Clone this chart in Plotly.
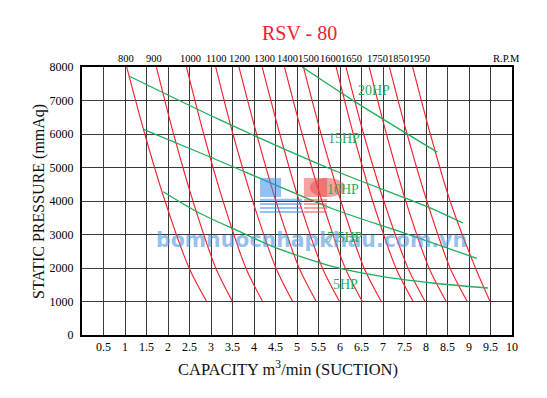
import plotly.graph_objects as go

# ---------------- data ----------------
pressure_levels = [8000, 6000, 4000, 2000, 1000]

rpm_labels = ["800", "900", "1000", "1100", "1200", "1300", "1400",
              "1500", "1600", "1650", "1750", "1850", "1950"]
# capacity (m3/min) of each RPM curve at the pressure levels above
rpm_curve_x = [
    [1.04, 1.46, 1.93, 2.49, 2.90],
    [1.73, 2.13, 2.58, 3.11, 3.50],
    [2.43, 2.83, 3.28, 3.81, 4.20],
    [3.11, 3.51, 3.97, 4.51, 4.90],
    [3.65, 4.06, 4.51, 5.05, 5.45],
    [4.19, 4.60, 5.05, 5.59, 5.99],
    [4.71, 5.12, 5.58, 6.12, 6.52],
    [5.15, 5.56, 6.02, 6.56, 6.96],
    [5.91, 6.31, 6.76, 7.30, 7.70],
    [6.14, 6.55, 7.02, 7.58, 7.98],
    [6.68, 7.08, 7.53, 8.07, 8.47],
    [7.15, 7.56, 8.02, 8.56, 8.96],
    [7.69, 8.10, 8.56, 9.15, 9.49],
]
# x positions of the RPM labels along the top edge
rpm_label_x = [1.02, 1.67, 2.52, 3.13, 3.67, 4.25, 4.79,
               5.26, 5.77, 6.26, 6.88, 7.35, 7.84]

# horsepower lines
hp20_x = [5.12, 6.39, 8.26]
hp20_y = [8000, 6930, 5460]
hp15_x = [1.09, 3.21, 5.84, 8.16, 8.86]
hp15_y = [7730, 6420, 4925, 3760, 3343]
hp10_x = [1.43, 2.98, 5.84, 7.40, 9.18]
hp10_y = [6140, 5313, 3761, 3084, 2290]
hp5_x = [1.89, 2.74, 3.67, 4.44, 5.84, 7.00, 8.16, 9.44]
hp5_y = [4278, 3633, 3084, 2636, 2039, 1740, 1552, 1403]

hp_label_text = ["20HP", "15HP", "10HP", "7.5HP", "5HP"]
hp_label_x = [6.79, 6.09, 6.06, 6.12, 6.12]
hp_label_y = [7313, 5866, 4343, 2910, 1507]

x_tick_vals = [0.5, 1, 1.5, 2, 2.5, 3, 3.5, 4, 4.5, 5, 5.5, 6, 6.5, 7,
               7.5, 8, 8.5, 9, 9.5, 10]
x_tick_text = ["0.5", "1", "1.5", "2", "2.5", "3", "3.5", "4", "4.5", "5",
               "5.5", "6", "6.5", "7", "7.5", "8", "8.5", "9", "9.5", "10"]
y_tick_vals = [0, 1000, 2000, 3000, 4000, 5000, 6000, 7000, 8000]
y_tick_text = ["0", "1000", "2000", "3000", "4000", "5000", "6000", "7000", "8000"]

# ---------------- figure ----------------
SERIF = "Liberation Serif, Times New Roman, serif"
RED = "#f2222c"
GREEN = "#1fae5c"

fig = go.Figure()

for xs in rpm_curve_x:
    fig.add_trace(go.Scatter(
        x=xs, y=pressure_levels, mode="lines",
        line=dict(color=RED, width=1.1, shape="spline", smoothing=0.8),
        hoverinfo="skip", showlegend=False))

for xs, ys in [(hp20_x, hp20_y), (hp15_x, hp15_y), (hp10_x, hp10_y), (hp5_x, hp5_y)]:
    fig.add_trace(go.Scatter(
        x=xs, y=ys, mode="lines",
        line=dict(color=GREEN, width=1.3, shape="spline", smoothing=0.8),
        hoverinfo="skip", showlegend=False))

annotations = []
# watermark first so the green labels are drawn above it
annotations.append(dict(text="<b>bomnuocnhapkhau.com.vn</b>", x=0.5326, y=0.3545,
                        xref="paper", yref="paper", showarrow=False,
                        font=dict(family="DejaVu Sans", size=20.5, color="rgba(80,150,220,0.6)")))

for t, xv in zip(rpm_labels, rpm_label_x):
    annotations.append(dict(text=t, x=xv, y=1, xref="x", yref="paper",
                            yanchor="bottom", xanchor="center", yshift=1,
                            showarrow=False, font=dict(family=SERIF, size=10.5, color="black")))
annotations.append(dict(text="R.P.M", x=0.988, y=1, xref="paper", yref="paper",
                        yanchor="bottom", xanchor="center", yshift=1,
                        showarrow=False, font=dict(family=SERIF, size=10.5, color="black")))
for t, xv, yv in zip(hp_label_text, hp_label_x, hp_label_y):
    annotations.append(dict(text=t, x=xv, y=yv, xref="x", yref="y",
                            showarrow=False, font=dict(family=SERIF, size=14, color=GREEN)))

# titles
annotations.append(dict(text="RSV - 80", x=0.505, y=1.175, xref="paper", yref="paper",
                        showarrow=False, font=dict(family=SERIF, size=20, color=RED)))
annotations.append(dict(text="STATIC PRESSURE (mmAq)", x=-0.1256, y=0.5,
                        xref="paper", yref="paper", textangle=-90, showarrow=False,
                        font=dict(family=SERIF, size=16, color="#111111")))
annotations.append(dict(text="CAPACITY m<sup>3</sup>/min (SUCTION)", x=0.479, y=-0.1716,
                        xref="paper", yref="paper", showarrow=False,
                        font=dict(family=SERIF, size=16.5, color="#111111")))

shapes = []
BLUE_WM = "rgba(60,140,235,0.55)"
RED_WM = "rgba(235,70,70,0.5)"
shapes.append(dict(type="rect", xref="paper", yref="paper", x0=0.414, x1=0.463,
                   y0=0.515, y1=0.586, fillcolor=BLUE_WM, line=dict(width=0), layer="above"))
shapes.append(dict(type="rect", xref="paper", yref="paper", x0=0.516, x1=0.57,
                   y0=0.515, y1=0.586, fillcolor=RED_WM, line=dict(width=0), layer="above"))
shapes.append(dict(type="circle", xref="paper", yref="paper", x0=0.53, x1=0.612,
                   y0=0.515, y1=0.586, fillcolor=RED_WM, line=dict(width=0), layer="above"))
for yy in [0.504, 0.489, 0.474, 0.459]:
    shapes.append(dict(type="rect", xref="paper", yref="paper", x0=0.414, x1=0.512,
                       y0=yy - 0.004, y1=yy + 0.004, fillcolor=BLUE_WM,
                       line=dict(width=0), layer="above"))
    shapes.append(dict(type="rect", xref="paper", yref="paper", x0=0.516, x1=0.57,
                       y0=yy - 0.004, y1=yy + 0.004, fillcolor=RED_WM,
                       line=dict(width=0), layer="above"))

# the page adds an 8px body margin, so the figure is made 8px smaller
fig.update_layout(
    width=539, height=390,
    margin=dict(l=74, r=35, t=59, b=63),
    paper_bgcolor="white", plot_bgcolor="white",
    showlegend=False,
    annotations=annotations,
    shapes=shapes,
    xaxis=dict(range=[0, 10], tickvals=x_tick_vals, ticktext=x_tick_text,
               showgrid=True, gridcolor="#3a3a3a", gridwidth=1.4,
               showline=True, linecolor="black", linewidth=2, mirror=True,
               zeroline=False, ticks="", fixedrange=True,
               tickfont=dict(family=SERIF, size=12, color="black")),
    yaxis=dict(range=[0, 8000], tickvals=y_tick_vals, ticktext=y_tick_text,
               showgrid=True, gridcolor="#3a3a3a", gridwidth=1.4,
               showline=True, linecolor="black", linewidth=2, mirror=True,
               zeroline=False, ticks="", fixedrange=True, ticklabelstandoff=4,
               tickfont=dict(family=SERIF, size=12, color="black")),
)

fig.write_html("out.html")
